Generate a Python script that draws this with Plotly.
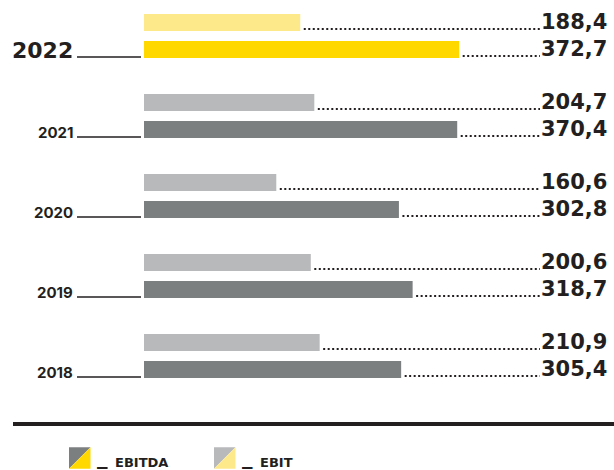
import plotly.graph_objects as go

# ---- data ----
years = ["2022", "2021", "2020", "2019", "2018"]
ebitda = [372.7, 370.4, 302.8, 318.7, 305.4]
ebit = [188.4, 204.7, 160.6, 200.6, 210.9]
highlight_year = "2022"
legend_names = ["EBITDA", "EBIT"]

# ---- styles ----
INK = "#231f20"
C_EBITDA = "#7c7f80"
C_EBIT = "#b8b9bb"
C_EBITDA_HL = "#ffd800"
C_EBIT_HL = "#fee98a"
FONT = "DejaVu Sans"
FONT_SMALL = "Inter"

W, H = 614, 470
L = 144
X_RANGE = [7.2, 552.2]
SLOT = 80.0  # px per category
Y_RANGE = [(H - 36) / SLOT, -36 / SLOT]


def fmt(v):
    return f"{v:.1f}".replace(".", ",")


def px_x(px):
    return (px - L) / (W - L)


def px_y(py):
    return 1 - py / H


def xdata_at_px(px):
    return X_RANGE[0] + (px - L) / (W - L) * (X_RANGE[1] - X_RANGE[0])


def px_to_data_dx(dpx):
    return dpx / (W - L) * (X_RANGE[1] - X_RANGE[0])


ebit_colors = [C_EBIT_HL if y == highlight_year else C_EBIT for y in years]
ebitda_colors = [C_EBITDA_HL if y == highlight_year else C_EBITDA for y in years]

fig = go.Figure()
fig.add_trace(go.Bar(y=years, x=ebit, orientation="h", name="EBIT",
                     marker=dict(color=ebit_colors, line=dict(width=0)),
                     hoverinfo="skip"))
fig.add_trace(go.Bar(y=years, x=ebitda, orientation="h", name="EBITDA",
                     marker=dict(color=ebitda_colors, line=dict(width=0)),
                     hoverinfo="skip"))

shapes = []
annotations = []
leader_end = xdata_at_px(540)
label_x = px_x(607.5)

for i, yr in enumerate(years):
    big = yr == highlight_year
    for val, dy_bar in ((ebit[i], -13.5), (ebitda[i], 13.5)):
        # dotted leader line
        ly = i + (dy_bar + 6.5) / SLOT
        shapes.append(dict(type="line", xref="x", yref="y",
                           x0=val + px_to_data_dx(3.5), x1=leader_end,
                           y0=ly, y1=ly,
                           line=dict(color=INK, width=2, dash="2px,2.5px")))
        # value label
        annotations.append(dict(xref="paper", yref="y", x=label_x,
                                y=i + (dy_bar - 0.5) / SLOT,
                                xanchor="right", yanchor="middle",
                                text=f"<b>{fmt(val)}</b>", showarrow=False,
                                borderpad=0,
                                font=dict(family=FONT, size=21, color=INK)))
    # year label
    if big:
        annotations.append(dict(xref="paper", yref="y", x=px_x(74),
                                y=i + 14 / SLOT,
                                xanchor="right", yanchor="middle",
                                text=f"<b>{yr}</b>", showarrow=False,
                                borderpad=0,
                                font=dict(family=FONT, size=22, color=INK)))
    else:
        annotations.append(dict(xref="paper", yref="y", x=px_x(74),
                                y=i + 16.5 / SLOT,
                                xanchor="right", yanchor="middle",
                                text=f"<b>{yr}</b>", showarrow=False,
                                borderpad=0,
                                font=dict(family=FONT_SMALL, size=15,
                                          color=INK)))
    uy = i + 21 / SLOT
    shapes.append(dict(type="line", xref="paper", yref="y",
                       x0=px_x(77), x1=px_x(141), y0=uy, y1=uy,
                       line=dict(color=INK, width=1.5)))

# thick separator
shapes.append(dict(type="line", xref="paper", yref="paper",
                   x0=px_x(13), x1=1, y0=px_y(424), y1=px_y(424),
                   line=dict(color=INK, width=4)))

# legend icons
def icon(x0p, dark, light):
    x0, x1 = px_x(x0p), px_x(x0p + 21.5)
    yt, yb = px_y(447.3), px_y(468.8)
    return [
        dict(type="path", xref="paper", yref="paper",
             path=f"M{x0},{yt} L{x1},{yt} L{x0},{yb} Z",
             fillcolor=dark, line=dict(width=0)),
        dict(type="path", xref="paper", yref="paper",
             path=f"M{x1},{yt} L{x1},{yb} L{x0},{yb} Z",
             fillcolor=light, line=dict(width=0)),
    ]

shapes += icon(69, C_EBITDA, C_EBITDA_HL)
shapes += icon(214, C_EBIT, C_EBIT_HL)

for xp, name in ((96, legend_names[0]), (241, legend_names[1])):
    annotations.append(dict(xref="paper", yref="paper", x=px_x(xp),
                            y=px_y(456.5), xanchor="left", yanchor="middle",
                            text="<b>_</b>", showarrow=False, borderpad=0,
                            font=dict(family=FONT, size=21, color=INK)))
    annotations.append(dict(xref="paper", yref="paper", x=px_x(xp + 18),
                            y=px_y(462.5), xanchor="left", yanchor="middle",
                            text=f"<b>{name}</b>", showarrow=False,
                            borderpad=0,
                            font=dict(family=FONT, size=13, color=INK)))

fig.update_layout(
    width=W, height=H,
    margin=dict(l=L, r=0, t=0, b=0),
    paper_bgcolor="white", plot_bgcolor="white",
    barmode="group", bargap=0.325, bargroupgap=0.37,
    showlegend=False,
    xaxis=dict(range=X_RANGE, visible=False, fixedrange=True),
    yaxis=dict(type="category", categoryorder="array", categoryarray=years,
               range=Y_RANGE, visible=False, fixedrange=True),
    shapes=shapes, annotations=annotations,
    font=dict(family=FONT, color=INK),
)

fig.write_html("out.html", config={"displayModeBar": False},
               post_script="document.body.style.margin='0';"
                           "document.body.style.padding='0';"
                           "document.body.style.overflow='hidden';")
